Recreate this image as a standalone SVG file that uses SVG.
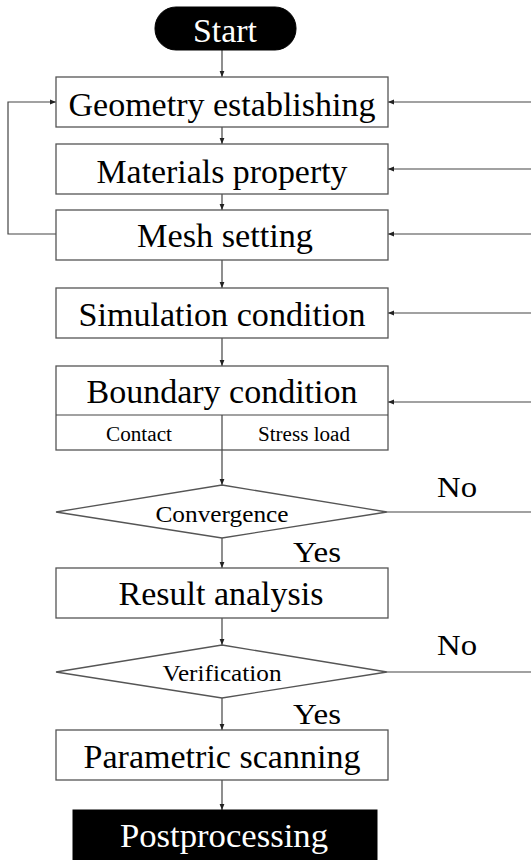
<svg xmlns="http://www.w3.org/2000/svg" width="531" height="860" viewBox="0 0 531 860">
<defs>
<marker id="ah" viewBox="0 0 10 10" refX="10" refY="5" markerWidth="6" markerHeight="6" orient="auto" markerUnits="userSpaceOnUse">
<path d="M0,1 L10,5 L0,9 z" fill="#222"/>
</marker>
<style>
.box{fill:#fff;stroke:#555;stroke-width:1.3}
.term{fill:#000;stroke:#000}
.t{font-family:"Liberation Serif","Times New Roman",serif;fill:#000;text-anchor:middle}
.big{font-size:33px}
.small{font-size:20px}
.mid{font-size:23px}
.lbl{font-size:30px}
.w{fill:#fff}
.c{fill:none;stroke:#444;stroke-width:1.2}
</style>
</defs>
<rect width="531" height="860" fill="#fff"/>
<g id="connectors">
<path class="c" d="M222,50 V77" marker-end="url(#ah)"/>
<path class="c" d="M222,127 V144" marker-end="url(#ah)"/>
<path class="c" d="M222,194 V210" marker-end="url(#ah)"/>
<path class="c" d="M222,260 V288" marker-end="url(#ah)"/>
<path class="c" d="M222,338 V366" marker-end="url(#ah)"/>
<path class="c" d="M222,415 V485" marker-end="url(#ah)"/>
<path class="c" d="M222,538 V568" marker-end="url(#ah)"/>
<path class="c" d="M222,618 V645" marker-end="url(#ah)"/>
<path class="c" d="M222,698 V730" marker-end="url(#ah)"/>
<path class="c" d="M222,780 V810" marker-end="url(#ah)"/>
<path class="c" d="M56,234 H8 V102 H56" marker-end="url(#ah)"/>
<path class="c" d="M531,102 H388" marker-end="url(#ah)"/>
<path class="c" d="M531,169 H388" marker-end="url(#ah)"/>
<path class="c" d="M531,234 H388" marker-end="url(#ah)"/>
<path class="c" d="M531,313 H388" marker-end="url(#ah)"/>
<path class="c" d="M531,402 H388" marker-end="url(#ah)"/>
<path class="c" d="M387,512 H531"/>
<path class="c" d="M387,672 H531"/>
<text class="t lbl" x="457" y="497" textLength="40" lengthAdjust="spacingAndGlyphs">No</text>
<text class="t lbl" x="317" y="562" textLength="48" lengthAdjust="spacingAndGlyphs">Yes</text>
<text class="t lbl" x="457" y="655" textLength="40" lengthAdjust="spacingAndGlyphs">No</text>
<text class="t lbl" x="317" y="724" textLength="48" lengthAdjust="spacingAndGlyphs">Yes</text>
</g>
<g id="start">
<rect class="term" x="155" y="7" width="141" height="43" rx="21" ry="21"/>
<text class="t big w" x="225" y="42" textLength="64" lengthAdjust="spacingAndGlyphs">Start</text>
</g>
<g id="geometry">
<rect class="box" x="56" y="77" width="332" height="50"/>
<text class="t big" x="222" y="116" textLength="307" lengthAdjust="spacingAndGlyphs">Geometry establishing</text>
</g>
<g id="materials">
<rect class="box" x="56" y="144" width="332" height="50"/>
<text class="t big" x="222" y="183" textLength="251" lengthAdjust="spacingAndGlyphs">Materials property</text>
</g>
<g id="mesh">
<rect class="box" x="56" y="210" width="332" height="50"/>
<text class="t big" x="225" y="247" textLength="176" lengthAdjust="spacingAndGlyphs">Mesh setting</text>
</g>
<g id="simulation">
<rect class="box" x="56" y="288" width="332" height="50"/>
<text class="t big" x="222" y="326" textLength="287" lengthAdjust="spacingAndGlyphs">Simulation condition</text>
</g>
<g id="boundary">
<rect class="box" x="56" y="366" width="332" height="84"/>
<path class="c" d="M56,415 H388 M222,415 V450"/>
<text class="t big" x="222" y="403" textLength="271" lengthAdjust="spacingAndGlyphs">Boundary condition</text>
<text class="t small" x="139" y="441" textLength="66" lengthAdjust="spacingAndGlyphs">Contact</text>
<text class="t small" x="304" y="441" textLength="92" lengthAdjust="spacingAndGlyphs">Stress load</text>
</g>
<g id="convergence">
<polygon class="box" points="222,485 387,512 222,538 56,512"/>
<text class="t mid" x="222" y="522" textLength="133" lengthAdjust="spacingAndGlyphs">Convergence</text>
</g>
<g id="result">
<rect class="box" x="56" y="568" width="332" height="50"/>
<text class="t big" x="221" y="605" textLength="205" lengthAdjust="spacingAndGlyphs">Result analysis</text>
</g>
<g id="verification">
<polygon class="box" points="222,645 387,672 222,698 56,672"/>
<text class="t mid" x="222" y="681" textLength="119" lengthAdjust="spacingAndGlyphs">Verification</text>
</g>
<g id="parametric">
<rect class="box" x="56" y="730" width="332" height="50"/>
<text class="t big" x="222" y="768" textLength="277" lengthAdjust="spacingAndGlyphs">Parametric scanning</text>
</g>
<g id="postprocessing">
<rect class="term" x="73" y="810" width="304" height="52"/>
<text class="t big w" x="224" y="847" textLength="208" lengthAdjust="spacingAndGlyphs">Postprocessing</text>
</g>
</svg>
